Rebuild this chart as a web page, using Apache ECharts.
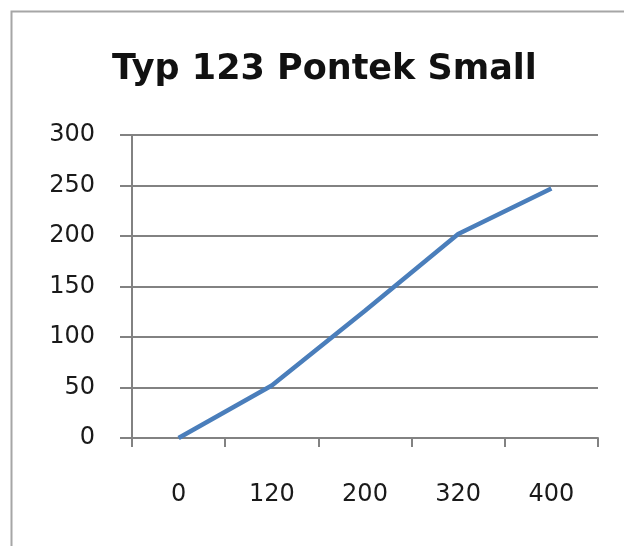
<!DOCTYPE html>
<html>
<head>
<meta charset="utf-8">
<script src="https://cdn.jsdelivr.net/npm/echarts@6/dist/echarts.min.js"></script>
<style>html,body{margin:0;padding:0;background:#fff}#c{width:624px;height:546px}</style>
</head>
<body>
<div id="c"></div>
<script>
var titleText = 'Typ 123 Pontek Small';
var categories = ['0', '120', '200', '320', '400'];
var values = [0, 52, 126, 202, 247];
var yTicks = {min: 0, max: 300, interval: 50};

var chart = echarts.init(document.getElementById('c'));
chart.setOption({
  animation: false,
  backgroundColor: '#ffffff',
  graphic: [{
    type: 'rect', left: 9, top: 9, silent: true,
    shape: {x: 0, y: 0, width: 640, height: 560},
    style: {fill: 'none', stroke: '#a6a6a6', lineWidth: 2}
  }],
  title: {
    text: titleText, left: 107, top: 47,
    textStyle: {fontFamily: 'DejaVu Sans', fontWeight: 'bold', fontSize: 35, color: '#111'}
  },
  grid: {left: 132, right: 26, top: 135, bottom: 108},
  xAxis: {
    type: 'category', data: categories, boundaryGap: true,
    axisLine: {lineStyle: {color: '#828282', width: 2}},
    axisTick: {show: true, length: 9, lineStyle: {color: '#828282', width: 2}},
    axisLabel: {margin: 45, fontFamily: 'DejaVu Sans', fontSize: 24, color: '#1a1a1a'},
    splitLine: {show: false}
  },
  yAxis: {
    type: 'value', min: yTicks.min, max: yTicks.max, interval: yTicks.interval,
    axisLine: {show: true, lineStyle: {color: '#828282', width: 2}},
    axisTick: {show: true, length: 12, lineStyle: {color: '#828282', width: 2}},
    axisLabel: {margin: 37, fontFamily: 'DejaVu Sans', fontSize: 24, color: '#1a1a1a'},
    splitLine: {show: true, lineStyle: {color: '#828282', width: 2}}
  },
  series: [{
    type: 'line', data: values, symbol: 'none',
    lineStyle: {color: '#4a7ebb', width: 4.5}
  }]
});
</script>
</body>
</html>
